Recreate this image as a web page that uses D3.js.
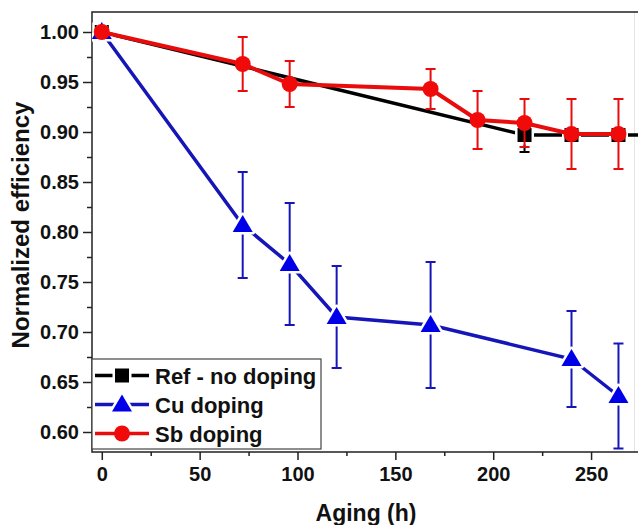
<!DOCTYPE html>
<html>
<head>
<meta charset="utf-8">
<script src="https://cdn.jsdelivr.net/npm/d3@7"></script>
<style>
  body { margin: 0; background: #fff; }
  text { font-family: "Liberation Sans", Arial, sans-serif; font-weight: bold; fill: #111; }
</style>
</head>
<body>
<div id="container"></div>
<script>
// data
var refHours = [0, 216, 240, 264, 288];
var refValues = [1.0, 0.897, 0.897, 0.897, 0.897];
var refErrors = [0, 0.017, 0, 0, 0];

var cuHours = [0, 72, 96, 120, 168, 240, 264];
var cuValues = [1.0, 0.807, 0.768, 0.715, 0.707, 0.673, 0.636];
var cuErrors = [0, 0.053, 0.061, 0.051, 0.063, 0.048, 0.0525];

var sbHours = [0, 72, 96, 168, 192, 216, 240, 264];
var sbValues = [1.0, 0.968, 0.948, 0.943, 0.912, 0.909, 0.898, 0.898];
var sbErrors = [0, 0.027, 0.023, 0.02, 0.029, 0.024, 0.035, 0.035];

var xTicks = [0, 50, 100, 150, 200, 250];
var xMinor = [25, 75, 125, 175, 225];
var yTicks = [0.60, 0.65, 0.70, 0.75, 0.80, 0.85, 0.90, 0.95, 1.00];
var yMinor = [0.625, 0.675, 0.725, 0.775, 0.825, 0.875, 0.925, 0.975];

var legendLabels = ["Ref - no doping", "Cu doping", "Sb doping"];

var w = 638, h = 525;
var mLeft = 92, mTop = 12, mRight = 640, mBottom = 452;

var svg = d3.select("#container").append("svg")
    .attr("width", w).attr("height", h);

var x = d3.scaleLinear().domain([-5, 275]).range([mLeft, mRight]);
var y = d3.scaleLinear().domain([0.58, 1.02]).range([mBottom, mTop]);

svg.append("clipPath").attr("id", "plotclip")
  .append("rect").attr("x", mLeft).attr("y", mTop)
  .attr("width", mRight - mLeft).attr("height", mBottom - mTop);

// faint line near right edge
svg.append("line").attr("x1", 634.5).attr("x2", 634.5)
  .attr("y1", mTop).attr("y2", mBottom)
  .attr("stroke", "#e4e4e4").attr("stroke-width", 1);

// axes
svg.append("g").attr("transform", "translate(0," + mBottom + ")")
  .call(d3.axisBottom(x).tickValues(xTicks).tickSize(8).tickPadding(7).tickFormat(d3.format("d")));
svg.append("g").attr("transform", "translate(0," + mBottom + ")")
  .call(d3.axisBottom(x).tickValues(xMinor).tickSize(4).tickFormat(""));
svg.append("g").attr("transform", "translate(" + mLeft + ",0)")
  .call(d3.axisLeft(y).tickValues(yTicks).tickSize(9).tickPadding(4).tickFormat(d3.format(".2f")));
svg.append("g").attr("transform", "translate(" + mLeft + ",0)")
  .call(d3.axisLeft(y).tickValues(yMinor).tickSize(5).tickFormat(""));

svg.selectAll(".domain").remove();
svg.selectAll(".tick line").attr("stroke", "#222").attr("stroke-width", 1.5);
svg.selectAll(".tick text").style("font-size", "20px").attr("fill", "#111");

// frame
svg.append("path")
  .attr("d", "M" + mRight + "," + mTop + "H" + mLeft + "V" + mBottom + "H" + mRight)
  .attr("fill", "none").attr("stroke", "#222").attr("stroke-width", 1.5);

// axis titles
svg.append("text").attr("x", (mLeft + mRight) / 2).attr("y", 521)
  .attr("text-anchor", "middle").style("font-size", "23px").text("Aging (h)");
svg.append("text").attr("transform", "translate(29,225) rotate(-90)")
  .attr("text-anchor", "middle").style("font-size", "24px").text("Normalized efficiency");

var plot = svg.append("g").attr("clip-path", "url(#plotclip)");
var line = d3.line().x(function(d) { return x(d.t); }).y(function(d) { return y(d.v); });

function build(hours, values, errors) {
  return hours.map(function(t, i) { return { t: t, v: values[i], e: errors[i] }; });
}

var triPath = "M0,-10L10,7L-10,7Z";

var series = [
  { data: build(refHours, refValues, refErrors), lineColor: "#000", markColor: "#000", lw: 3.5, shape: "square" },
  { data: build(cuHours, cuValues, cuErrors), lineColor: "#1616b8", markColor: "#0000e8", lw: 3.5, shape: "triangle" },
  { data: build(sbHours, sbValues, sbErrors), lineColor: "#e80c0c", markColor: "#f00a0a", lw: 4, shape: "circle" }
];

function drawMarker(g, shape, color, cx, cy) {
  if (shape === "square") {
    g.append("rect").attr("x", cx - 7).attr("y", cy - 7).attr("width", 14).attr("height", 14)
      .attr("fill", color).attr("stroke", "#fff").attr("stroke-width", 5).attr("paint-order", "stroke");
  } else if (shape === "triangle") {
    g.append("path").attr("d", triPath).attr("transform", "translate(" + cx + "," + cy + ")")
      .attr("fill", color).attr("stroke", "#fff").attr("stroke-width", 5).attr("paint-order", "stroke")
      .attr("stroke-linejoin", "round");
  } else {
    g.append("circle").attr("cx", cx).attr("cy", cy).attr("r", 8).attr("fill", color);
  }
}

series.forEach(function(s) {
  var g = plot.append("g");
  g.append("path").datum(s.data).attr("d", line)
    .attr("fill", "none").attr("stroke", s.lineColor).attr("stroke-width", s.lw);
  s.data.filter(function(d) { return d.e > 0; }).forEach(function(d) {
    var eb = g.append("g").attr("stroke", s.lineColor).attr("stroke-width", 2);
    eb.append("line").attr("x1", x(d.t)).attr("x2", x(d.t)).attr("y1", y(d.v - d.e)).attr("y2", y(d.v + d.e));
    [d.v - d.e, d.v + d.e].forEach(function(v) {
      eb.append("line").attr("x1", x(d.t) - 5).attr("x2", x(d.t) + 5).attr("y1", y(v)).attr("y2", y(v));
    });
  });
  s.data.forEach(function(d) { drawMarker(g, s.shape, s.markColor, x(d.t), y(d.v)); });
});

// legend
var lg = svg.append("g");
lg.append("rect").attr("x", mLeft).attr("y", 359).attr("width", 229).attr("height", 90)
  .attr("fill", "#fff").attr("stroke", "#444").attr("stroke-width", 1.2);
var rowY = [375.5, 404.5, 433.5];
series.forEach(function(s, i) {
  var ry = rowY[i];
  lg.append("line").attr("x1", 95).attr("x2", 149).attr("y1", ry).attr("y2", ry)
    .attr("stroke", s.lineColor).attr("stroke-width", 3.5);
  drawMarker(lg, s.shape, s.markColor, 122, ry);
  lg.append("text").attr("x", 155).attr("y", ry + 8).style("font-size", "22px").text(legendLabels[i]);
});
</script>
</body>
</html>
